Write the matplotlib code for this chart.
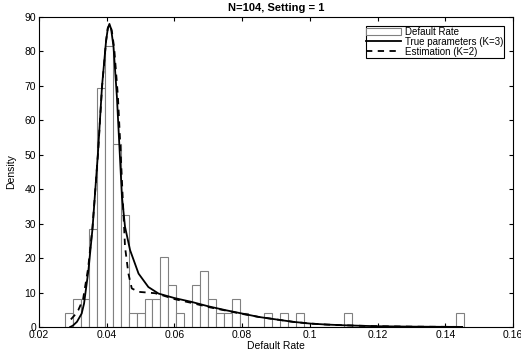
import matplotlib
matplotlib.use("Agg")
import matplotlib.pyplot as plt
from matplotlib.ticker import FormatStrFormatter
import numpy as np

plt.rcParams['font.family'] = ['Liberation Sans', 'DejaVu Sans']

# histogram: 50 equal bins between the min and max default rate
n_obs = 104
bin_lo = 0.0276
bin_hi = 0.1454
counts = [1, 2, 2, 7, 17, 20, 13, 8, 1, 1,
          2, 2, 5, 3, 1, 0, 3, 4, 2, 1,
          1, 2, 1, 0, 0, 1, 0, 1, 0, 1,
          0, 0, 0, 0, 0, 1, 0, 0, 0, 0,
          0, 0, 0, 0, 0, 0, 0, 0, 0, 1]

# true mixture density (K=3)
true_x = [0.0292, 0.0300, 0.0312, 0.0326, 0.0333, 0.0346, 0.0358, 0.0374,
          0.0386, 0.0398, 0.0403, 0.0408, 0.0413, 0.0420, 0.0430, 0.0437,
          0.0445, 0.0454, 0.0469, 0.0494, 0.0523, 0.0553, 0.0600, 0.0650,
          0.0700, 0.0750, 0.0800, 0.0850, 0.0900, 0.0950, 0.1000, 0.1050,
          0.1100, 0.1150, 0.1200, 0.1300, 0.1400, 0.1450]
true_y = [0.0, 0.4, 1.5, 3.9, 6.8, 16.5, 28.6, 50.4,
          69.8, 83.0, 86.5, 88.0, 86.5, 81.4, 66.9, 53.3,
          37.8, 29.1, 22.3, 15.5, 11.6, 9.7, 8.4, 7.3,
          6.0, 4.9, 3.9, 2.9, 2.2, 1.5, 1.0, 0.7,
          0.5, 0.35, 0.22, 0.1, 0.04, 0.02]

# estimated mixture density (K=2)
est_x = [0.0294, 0.0305, 0.0316, 0.0330, 0.0345, 0.0358, 0.0374, 0.0386,
         0.0398, 0.0403, 0.0409, 0.0415, 0.0422, 0.0433, 0.0440, 0.0447,
         0.0454, 0.0464, 0.0474, 0.0494, 0.0520, 0.0543, 0.0558, 0.0600,
         0.0650, 0.0700, 0.0750, 0.0800, 0.0850, 0.0900, 0.0950, 0.1000,
         0.1050, 0.1100, 0.1150, 0.1200, 0.1300, 0.1400, 0.1450]
est_y = [2.2, 3.4, 4.9, 8.0, 17.0, 29.0, 50.0, 69.5,
         83.0, 86.8, 88.0, 86.0, 81.0, 67.0, 53.0, 38.0,
         23.3, 15.5, 11.2, 10.2, 10.0, 9.8, 9.4, 8.1,
         7.0, 5.8, 4.8, 3.8, 2.9, 2.2, 1.5, 1.0,
         0.7, 0.5, 0.35, 0.22, 0.1, 0.04, 0.02]

edges = np.linspace(bin_lo, bin_hi, len(counts) + 1)
centers = (edges[:-1] + edges[1:]) / 2

fig = plt.figure(figsize=(5.21, 3.53), dpi=100)
ax = fig.add_axes([0.0749, 0.0737, 0.9097, 0.8781])

ax.hist(centers, bins=edges, weights=counts, density=True,
        facecolor='white', edgecolor='0.5', linewidth=0.8,
        label='Default Rate')
ax.plot(true_x, true_y, color='black', linewidth=1.3,
        label='True parameters (K=3)')
ax.plot(est_x, est_y, color='black', linewidth=1.3, linestyle=(0, (3.5, 3)),
        label='Estimation (K=2)')

ax.set_xlim(0.02, 0.16)
ax.set_ylim(0, 90)
ax.set_xticks(np.arange(0.02, 0.161, 0.02))
ax.set_yticks(range(0, 91, 10))
ax.xaxis.set_major_formatter(FormatStrFormatter('%g'))
ax.tick_params(direction='in', top=True, right=True, length=3,
               width=0.8, labelsize=7.5, pad=2)
for s in ax.spines.values():
    s.set_linewidth(0.8)

ax.set_title('N=104, Setting = 1', fontsize=8, fontweight='bold', pad=4)
ax.set_xlabel('Default Rate', fontsize=7.5, labelpad=1)
ax.set_ylabel('Density', fontsize=7.5, labelpad=6)

leg = ax.legend(loc='upper right', fontsize=7, fancybox=False,
                framealpha=1, edgecolor='black', handlelength=3.6,
                borderpad=0.1, labelspacing=0.0, handletextpad=0.35,
                borderaxespad=0.9)
leg.get_frame().set_linewidth(0.8)

fig.savefig('out.png', dpi=100)
